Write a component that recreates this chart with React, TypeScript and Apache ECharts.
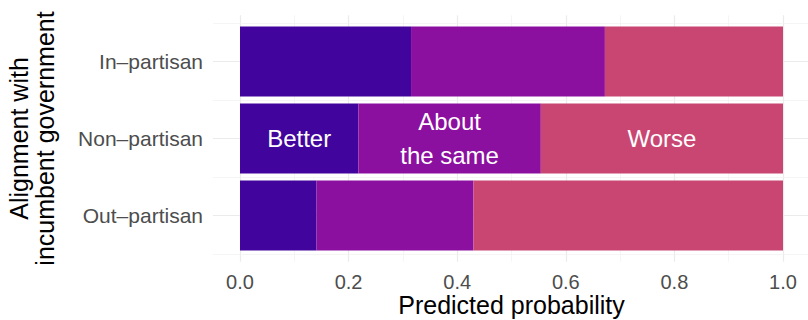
import React, { useEffect, useRef } from "react";
import * as echarts from "echarts";

const categories = ["In–partisan", "Non–partisan", "Out–partisan"];
const seriesNames = ["Better", "About the same", "Worse"];
const segmentLabels = ["Better", "About\nthe same", "Worse"];
const better = [0.315, 0.218, 0.141];
const aboutSame = [0.357, 0.336, 0.289];
const worse = [0.328, 0.446, 0.57];
const xTicks = [0, 0.2, 0.4, 0.6, 0.8, 1.0];
const xMinorTicks = [0.1, 0.3, 0.5, 0.7, 0.9];
const yMajor = [1, 2, 3];
const yMinor = [0.5, 1.5, 2.5, 3.5];
const colors = ["#41049D", "#8C109F", "#CA4672"];
const labelledRow = 1;

const FONT = "Liberation Sans, Arial, Helvetica, sans-serif";

export default function App() {
  const ref = useRef<HTMLDivElement>(null);
  useEffect(() => {
    if (!ref.current) return;
    const chart = echarts.init(ref.current, null, { renderer: "svg" });
    const values = [better, aboutSame, worse];
    const gridLineMajor = { color: "#EBEBEB", width: 1.2, type: "solid" };
    const gridLineMinor = { color: "#F0F0F0", width: 0.7, type: "solid" };
    const markData: any[] = [
      ...xTicks.map((v) => ({ xAxis: v, lineStyle: gridLineMajor })),
      ...xMinorTicks.map((v) => ({ xAxis: v, lineStyle: gridLineMinor })),
      ...yMajor.map((v) => ({ yAxis: v, lineStyle: gridLineMajor })),
      ...yMinor.map((v) => ({ yAxis: v, lineStyle: gridLineMinor })),
    ];
    const option: any = {
      animation: false,
      textStyle: { fontFamily: FONT },
      grid: [
        { left: 240, width: 543, top: 23, height: 231, containLabel: false, outerBoundsMode: "none" },
        { left: 213, width: 597, top: 15.3, height: 246.4, containLabel: false, outerBoundsMode: "none" },
      ],
      xAxis: [
        {
          type: "value",
          gridIndex: 0,
          min: 0,
          max: 1,
          interval: 0.2,
          axisLine: { show: false },
          axisTick: { show: false },
          splitLine: { show: false },
          axisLabel: {
            color: "#4D4D4D",
            fontSize: 20,
            fontFamily: FONT,
            margin: 18,
            formatter: (v: number) => v.toFixed(1),
          },
          name: "Predicted probability",
          nameLocation: "middle",
          nameGap: 38,
          nameMoveOverlap: false,
          nameTextStyle: { color: "#000", fontSize: 25, lineHeight: 26, fontFamily: FONT },
        },
        {
          type: "value",
          gridIndex: 1,
          min: -0.05,
          max: 1.05,
          show: false,
        },
      ],
      yAxis: [
        {
          type: "category",
          gridIndex: 0,
          data: categories,
          inverse: true,
          axisLine: { show: false },
          axisTick: { show: false },
          splitLine: { show: false },
          axisLabel: {
            color: "#4D4D4D",
            fontSize: 21,
            fontFamily: FONT,
            margin: 37,
          },
          name: "Alignment with\nincumbent government",
          nameLocation: "middle",
          nameRotate: 90,
          nameGap: 182,
          nameMoveOverlap: false,
          nameTextStyle: {
            color: "#000",
            fontSize: 25,
            lineHeight: 26,
            fontFamily: FONT,
          },
        },
        {
          type: "value",
          gridIndex: 1,
          min: 0.4,
          max: 3.6,
          inverse: true,
          show: false,
        },
      ],
      series: [
        {
          type: "line",
          xAxisIndex: 1,
          yAxisIndex: 1,
          data: [],
          z: 0,
          silent: true,
          markLine: {
            silent: true,
            z: 0,
            zlevel: 0,
            symbol: ["none", "none"],
            label: { show: false },
            animation: false,
            data: markData,
          },
        },
        ...seriesNames.map((name, s) => ({
          type: "bar",
          name,
          stack: "total",
          xAxisIndex: 0,
          yAxisIndex: 0,
          barWidth: 70,
          z: 5,
          itemStyle: { color: colors[s] },
          label: {
            show: false,
            position: "inside",
            color: "#FFFFFF",
            fontSize: 24,
            lineHeight: 34,
            fontFamily: FONT,
            formatter: () => segmentLabels[s],
          },
          data: values[s].map((v, i) => ({
            value: v,
            label: { show: i === labelledRow },
          })),
        })),
      ],
    };
    chart.setOption(option);
    return () => chart.dispose();
  }, []);
  return (
    <div
      ref={ref}
      style={{ position: "fixed", left: 0, top: 0, width: 808, height: 320, background: "#fff" }}
    />
  );
}
